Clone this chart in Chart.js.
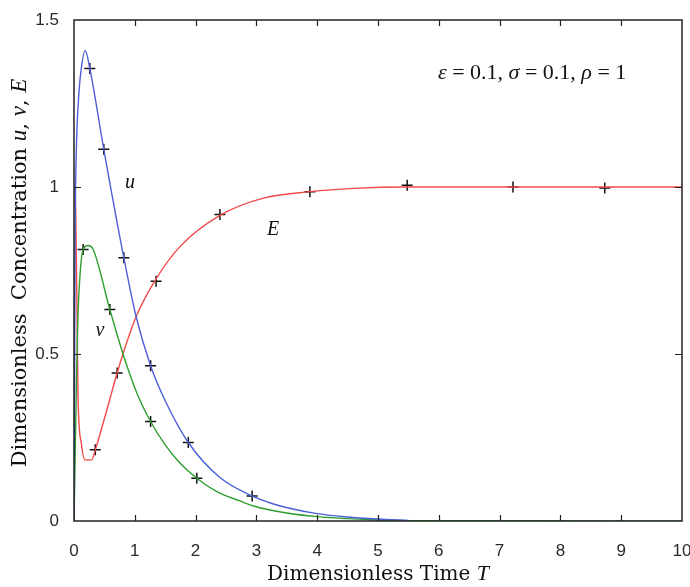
<!DOCTYPE html>
<html>
<head>
<meta charset="utf-8">
<script src="https://cdn.jsdelivr.net/npm/chart.js@4/dist/chart.umd.min.js"></script>
<style>
    html, body { margin: 0; padding: 0; background: #fff; }
    #wrap { width: 690px; height: 587px; }
</style>
</head>
<body>
<div id="wrap"><canvas id="graphique"></canvas></div>
<script>
// Courbes continues
const uTemps = [0, 0.02, 0.04, 0.07, 0.11, 0.186, 0.26, 0.49, 0.82, 1.02, 1.26, 1.5, 1.88, 2.4, 2.93, 3.23, 3.6, 4.0, 4.5, 5.0, 5.5]
const uValeurs = [0, 0.88, 1.12, 1.25, 1.34, 1.408, 1.355, 1.113, 0.788, 0.613, 0.465, 0.36, 0.235, 0.13, 0.075, 0.054, 0.036, 0.022, 0.012, 0.006, 0.002]

const vTemps = [0, 0.02, 0.04, 0.066, 0.1, 0.15, 0.23, 0.31, 0.59, 0.81, 1.03, 1.26, 1.5, 1.75, 2.02, 2.35, 2.73, 2.95, 3.5, 4.0, 4.5, 5.0, 5.5, 10]
const vValeurs = [0, 0.2, 0.42, 0.62, 0.74, 0.813, 0.825, 0.815, 0.633, 0.498, 0.385, 0.298, 0.228, 0.172, 0.128, 0.088, 0.06, 0.045, 0.024, 0.013, 0.007, 0.003, 0.001, 0]

const eTemps = [0, 0.02, 0.045, 0.066, 0.12, 0.18, 0.29, 0.35, 0.71, 0.81, 1.03, 1.35, 1.75, 2.4, 3.1, 3.88, 4.6, 5.5, 7, 10]
const eValeurs = [1.0, 0.98, 0.7, 0.373, 0.233, 0.183, 0.183, 0.213, 0.443, 0.503, 0.615, 0.725, 0.823, 0.915, 0.966, 0.986, 0.996, 1.0, 1.0, 1.0]

// Points "+" (solution approchée)
const uMarqT = [0.26, 0.49, 0.82, 1.26, 1.88, 2.93]
const uMarqV = [1.355, 1.113, 0.788, 0.465, 0.235, 0.075]
const vMarqT = [0.15, 0.59, 1.26, 2.02]
const vMarqV = [0.813, 0.633, 0.298, 0.128]
const eMarqT = [0.35, 0.71, 1.35, 2.4, 3.88, 5.48, 7.22, 8.73]
const eMarqV = [0.213, 0.443, 0.718, 0.918, 0.986, 1.005, 1.0, 0.997]

const xTicks = [0, 1, 2, 3, 4, 5, 6, 7, 8, 9, 10]
const yTicks = [0, 0.5, 1, 1.5]

function points(ts, vs) {
    return ts.map((t, i) => ({ x: t, y: vs[i] }))
}

function courbe(ts, vs, couleur) {
    return {
        data: points(ts, vs),
        showLine: true,
        borderColor: couleur,
        borderWidth: 1.4,
        pointRadius: 0,
        cubicInterpolationMode: "monotone",
        fill: false
    }
}

function marques(ts, vs) {
    return {
        data: points(ts, vs),
        showLine: false,
        pointStyle: "cross",
        pointRadius: 5.5,
        borderColor: "#111",
        borderWidth: 1.5
    }
}

// dessine une suite de morceaux de texte avec des polices différentes
function ecrireMorceaux(ctx, morceaux, x, y) {
    let pos = x
    for (const m of morceaux) {
        ctx.font = m.font
        ctx.fillText(m.txt, pos, y)
        pos += ctx.measureText(m.txt).width
    }
    return pos - x
}

function largeur(ctx, morceaux) {
    let w = 0
    for (const m of morceaux) {
        ctx.font = m.font
        w += ctx.measureText(m.txt).width
    }
    return w
}

const serif = "21px 'DejaVu Serif'"
const serifX = "20px 'DejaVu Serif'"
const ital = "italic 23px 'Liberation Serif'"
const italX = "italic 22px 'Liberation Serif'"
const txt = "22px 'Liberation Serif'"
const italP = "italic 22px 'Liberation Serif'"

const cadre = {
    id: "cadre",
    afterDraw(chart) {
        const ctx = chart.ctx
        const a = chart.chartArea
        const sx = chart.scales.x
        const sy = chart.scales.y
        ctx.save()
        ctx.strokeStyle = "#222"
        ctx.lineWidth = 1.5
        ctx.strokeRect(a.left, a.top, a.right - a.left, a.bottom - a.top)

        // graduations vers l'intérieur
        ctx.lineWidth = 1.2
        ctx.beginPath()
        for (const t of xTicks.slice(1, -1)) {
            const px = Math.round(sx.getPixelForValue(t)) + 0.5
            ctx.moveTo(px, a.bottom); ctx.lineTo(px, a.bottom - 6)
            ctx.moveTo(px, a.top); ctx.lineTo(px, a.top + 6)
        }
        for (const t of yTicks.slice(1, -1)) {
            const py = Math.round(sy.getPixelForValue(t)) + 0.5
            ctx.moveTo(a.left, py); ctx.lineTo(a.left + 7, py)
            ctx.moveTo(a.right, py); ctx.lineTo(a.right - 7, py)
        }
        ctx.stroke()

        ctx.fillStyle = "#111"
        ctx.textBaseline = "alphabetic"

        // titre axe x
        const titreX = [
            { txt: "Dimensionless Time ", font: serifX },
            { txt: "T", font: italX }
        ]
        const wx = largeur(ctx, titreX)
        ecrireMorceaux(ctx, titreX, (a.left + a.right) / 2 - wx / 2, 580)

        // titre axe y
        const titreY = [
            { txt: "Dimensionless  Concentration ", font: serif },
            { txt: "u", font: ital },
            { txt: ", ", font: serif },
            { txt: "v", font: ital },
            { txt: ", ", font: serif },
            { txt: "E", font: ital }
        ]
        const wy = largeur(ctx, titreY)
        ctx.save()
        ctx.translate(26, 273)
        ctx.rotate(-Math.PI / 2)
        ecrireMorceaux(ctx, titreY, -wy / 2, 0)
        ctx.restore()

        // étiquettes des courbes
        ctx.textAlign = "center"
        ctx.textBaseline = "middle"
        ctx.font = "italic 20px 'Liberation Serif'"
        ctx.fillText("u", 130, 183)
        ctx.fillText("v", 100, 331)
        ctx.fillText("E", 273, 230)

        // paramètres
        ctx.textAlign = "left"
        const params = [
            { txt: "ε", font: italP },
            { txt: " = 0.1, ", font: txt },
            { txt: "σ", font: italP },
            { txt: " = 0.1, ", font: txt },
            { txt: "ρ", font: italP },
            { txt: " = 1", font: txt }
        ]
        ecrireMorceaux(ctx, params, 438, 73)
        ctx.restore()
    }
}

new Chart(document.querySelector("#graphique"), {
    type: "scatter",
    data: {
        datasets: [
            courbe(uTemps, uValeurs, "#4d5fd8"),
            courbe(vTemps, vValeurs, "#2f9e2f"),
            courbe(eTemps, eValeurs, "#f24a4a"),
            marques(uMarqT, uMarqV),
            marques(vMarqT, vMarqV),
            marques(eMarqT, eMarqV)
        ]
    },
    options: {
        responsive: true,
        maintainAspectRatio: false,
        animation: false,
        layout: { padding: { top: 20, right: 8, left: 0, bottom: 0 } },
        plugins: {
            legend: { display: false },
            tooltip: { enabled: false }
        },
        scales: {
            x: {
                type: "linear",
                min: 0,
                max: 10,
                afterBuildTicks: s => { s.ticks = xTicks.map(v => ({ value: v })) },
                afterFit: s => {
                    s.height = 66
                    s.paddingLeft = 0
                    s.paddingRight = 0
                },
                grid: { display: false },
                border: { display: false },
                ticks: {
                    padding: 12,
                    color: "#2a2a2a",
                    font: { family: "'Liberation Sans'", size: 17 },
                    maxRotation: 0,
                    callback: v => String(v)
                }
            },
            y: {
                type: "linear",
                min: 0,
                max: 1.5,
                afterBuildTicks: s => { s.ticks = yTicks.map(v => ({ value: v })) },
                afterFit: s => {
                    s.width = 74
                    s.paddingTop = 0
                    s.paddingBottom = 0
                },
                grid: { display: false },
                border: { display: false },
                ticks: {
                    padding: 7,
                    color: "#2a2a2a",
                    font: { family: "'Liberation Sans'", size: 17 },
                    callback: v => String(v)
                }
            }
        }
    },
    plugins: [cadre]
})
</script>
</body>
</html>
